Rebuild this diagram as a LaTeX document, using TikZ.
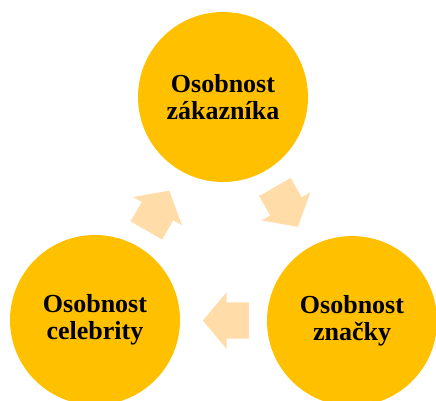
\documentclass[tikz,border=0pt]{standalone}
\usepackage{fontspec}
\setmainfont{Liberation Serif}
\usepackage{xcolor}
\usepackage{tikz}
\usetikzlibrary{calc,shapes.arrows}

\definecolor{zlata}{HTML}{FFC000}
\definecolor{broskev}{HTML}{FFDCA8}
\tikzset{
  kruh/.style={circle,fill=zlata,minimum size=170pt,inner sep=0pt,align=center,
    font=\fontsize{26}{27}\selectfont\bfseries},
  sipka/.style={single arrow,fill=broskev,inner xsep=0pt,inner ysep=18pt,
    minimum height=46pt,single arrow head extend=10pt,single arrow tip angle=100}
}

\begin{document}
\begin{tikzpicture}[x=1pt,y=1pt]
\useasboundingbox (0,0) rectangle (436,400);
\node[kruh] (zak) at (223,303) {Osobnost\\zákazníka};
\node[kruh] (zna) at (352,79) {Osobnost\\značky};
\node[kruh] (cel) at (95,80) {Osobnost\\celebrity};
% sipky mezi kruhy
\node[sipka,rotate=60] (s1) at ($(cel)!0.5!(zak)!-10pt!(zak)$) {};
\node[sipka,rotate=-60] (s2) at ($(zak)!0.5!(zna)!-10pt!(zna)$) {};
\node[sipka,rotate=180] (s3) at ($(zna)!0.5!(cel)!-10pt!(cel)$) {};
\end{tikzpicture}
\end{document}
